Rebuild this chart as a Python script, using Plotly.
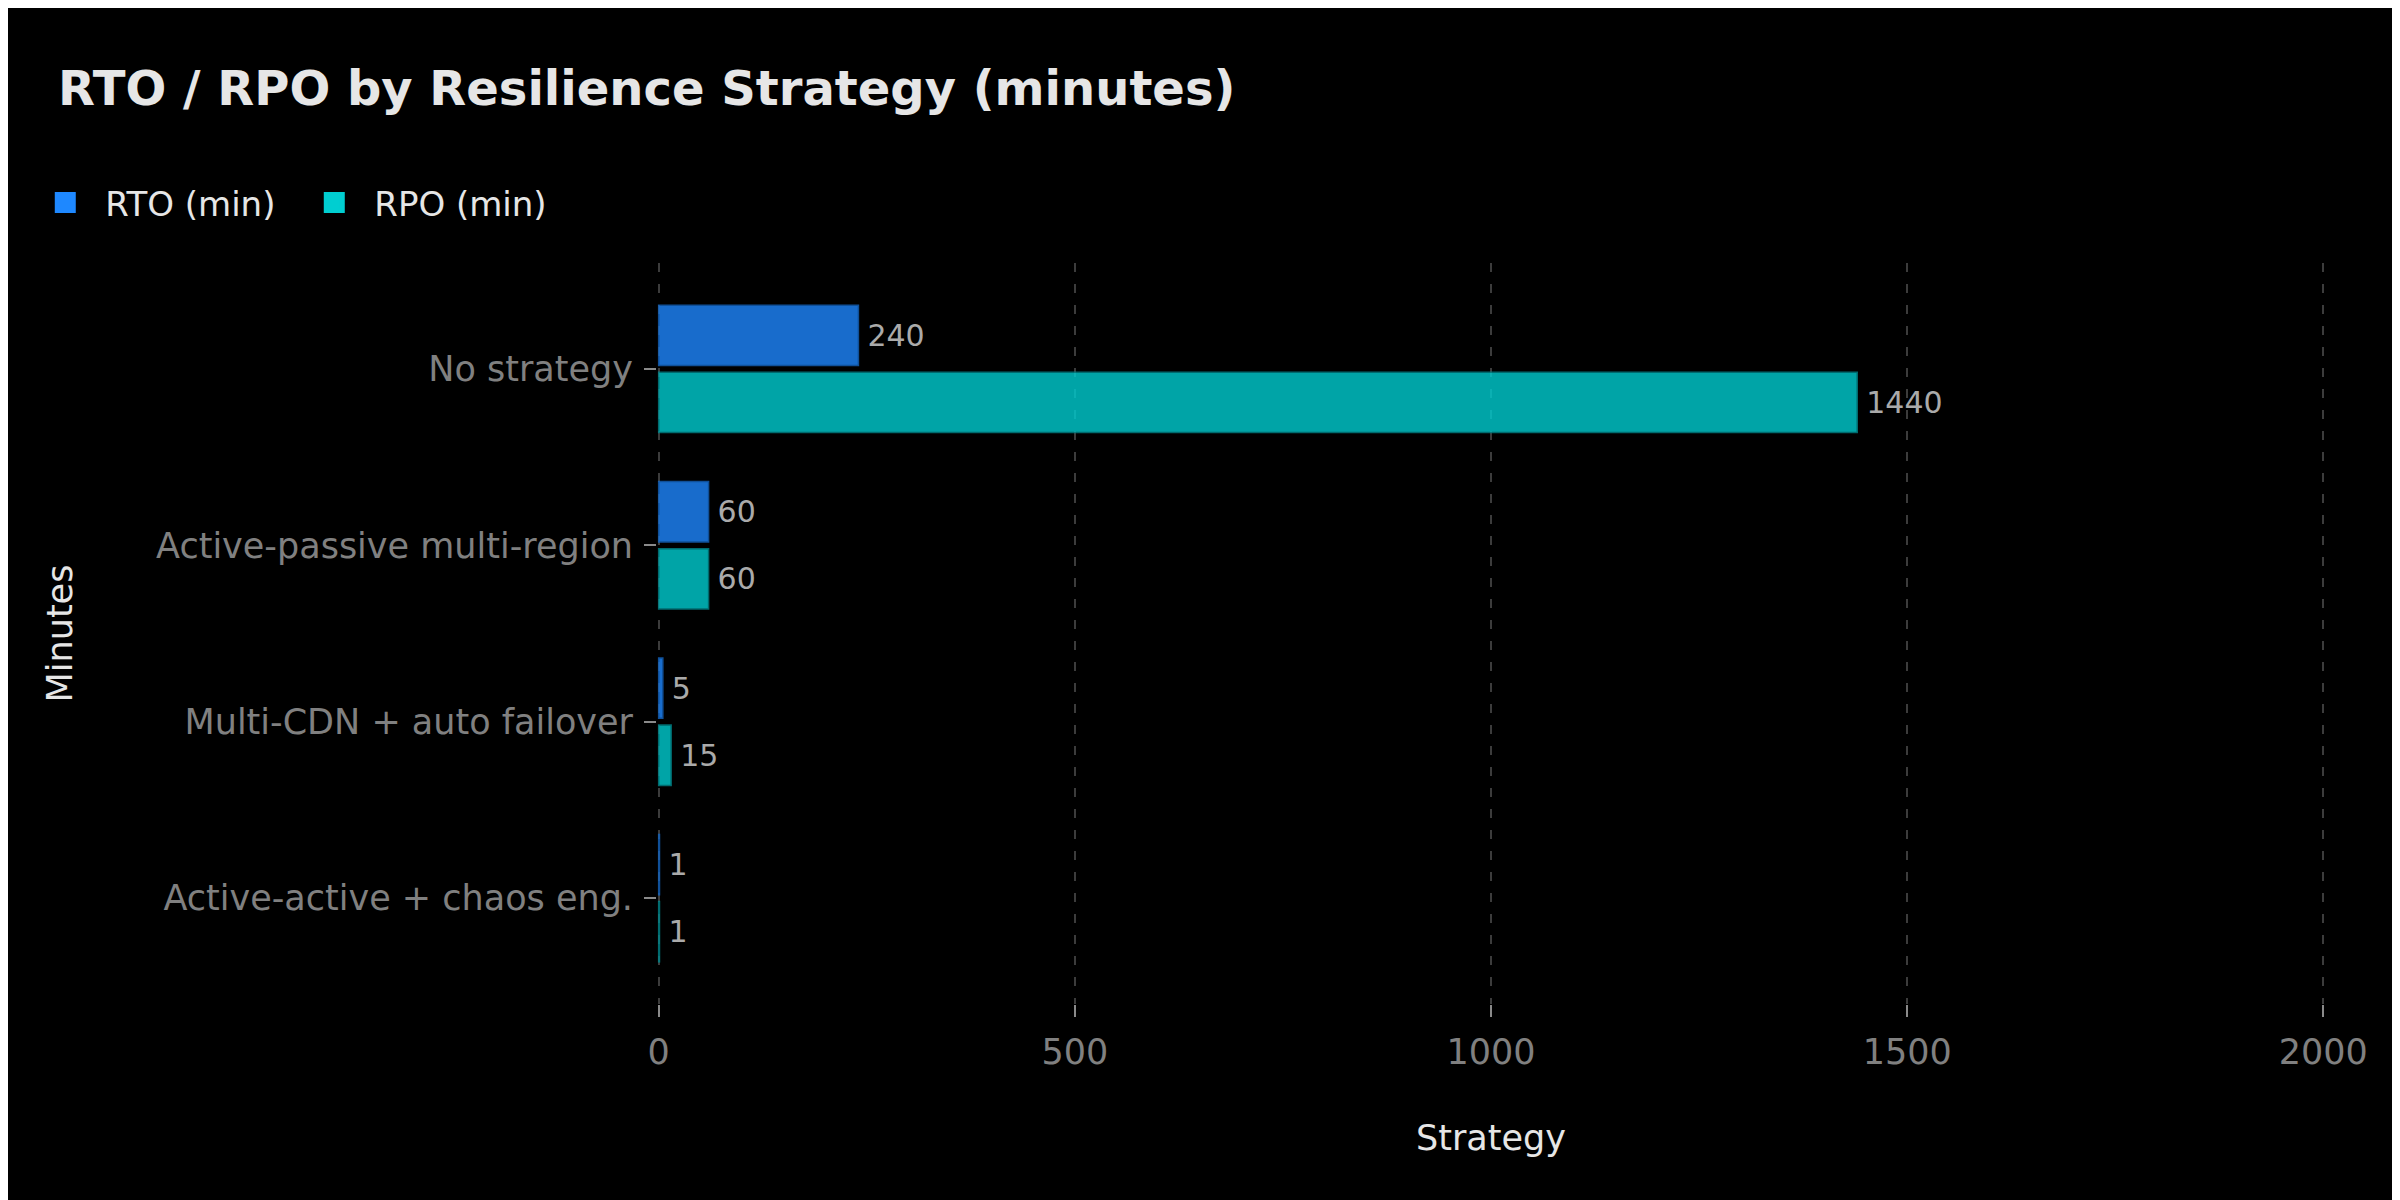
import plotly.graph_objects as go

strategies = ["No strategy", "Active-passive multi-region",
              "Multi-CDN + auto failover", "Active-active + chaos eng."]
rto_min = [240, 60, 5, 1]
rpo_min = [1440, 60, 15, 1]
x_ticks = [0, 500, 1000, 1500, 2000]

FONT = "DejaVu Sans"
BLUE = "#1E88FF"
TEAL = "#00CED1"

fig = go.Figure()

for name, vals, color, edge in [("RTO (min)", rto_min, BLUE, "#1565C0"),
                                ("RPO (min)", rpo_min, TEAL, "#00868B")]:
    fig.add_trace(go.Bar(
        y=strategies, x=vals, orientation="h", name=name,
        marker=dict(color=color, opacity=0.8, line=dict(color=edge, width=1.5)),
        text=vals, texttemplate="\u2009%{x}", textposition="outside",
        textfont=dict(family=FONT, size=30, color="#aaaaaa"),
        cliponaxis=False, showlegend=False,
    ))
    # legend entry with a bigger square
    fig.add_trace(go.Scatter(
        x=[None], y=[None], mode="markers", name=name,
        marker=dict(symbol="square", size=16, color=color,
                    line=dict(color=color, width=8)),
    ))

fig.update_layout(
    width=2400, height=1200,
    paper_bgcolor="#000000", plot_bgcolor="#000000",
    margin=dict(l=649, r=83, t=255, b=204),
    barmode="group", bargap=0.24, bargroupgap=0.1,
    font=dict(family=FONT, color="#e6e6e6"),
    title=dict(text="<b>RTO / RPO by Resilience Strategy (minutes)</b>",
               font=dict(family=FONT, size=48, color="#e6e6e6"),
               x=50 / 2400, xanchor="left", xref="container",
               y=1 - 80 / 1200, yanchor="middle", yref="container"),
    legend=dict(orientation="h", xref="container", yref="container",
                x=0.0072, xanchor="left", y=1 - 195 / 1200, yanchor="middle",
                itemwidth=70, entrywidth=184, entrywidthmode="pixels",
                font=dict(family=FONT, size=34, color="#e6e6e6"),
                bgcolor="rgba(0,0,0,0)"),
    xaxis=dict(
        title=dict(text="Strategy", standoff=54,
                   font=dict(family=FONT, size=35, color="#e6e6e6")),
        range=[-2, 2002], tickmode="array", tickvals=x_ticks,
        ticks="outside", ticklen=12, tickwidth=2, tickcolor="#8a8a8a",
        ticklabelstandoff=5,
        tickfont=dict(family=FONT, size=35, color="#808080"),
        showgrid=True, gridcolor="#3c3c3c", gridwidth=2, griddash="9px,12px",
        zeroline=False, showline=False,
    ),
    yaxis=dict(
        title=dict(text="Minutes", standoff=72,
                   font=dict(family=FONT, size=35, color="#e6e6e6")),
        categoryorder="array", categoryarray=strategies,
        range=[3.6, -0.6],
        ticks="outside", ticklen=12, tickwidth=2, tickcolor="#8a8a8a",
        ticklabelstandoff=4,
        tickfont=dict(family=FONT, size=35, color="#808080"),
        showgrid=False, zeroline=False, showline=False,
    ),
)

fig.write_html("out.html")
